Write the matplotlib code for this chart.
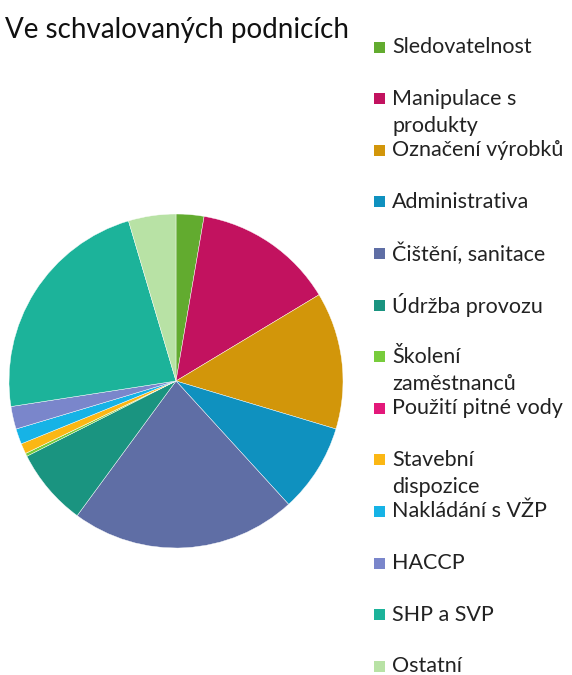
import matplotlib
matplotlib.use("Agg")
import matplotlib.pyplot as plt
from matplotlib.patches import Rectangle

plt.rcParams['font.family'] = ['Lato', 'DejaVu Sans']

# --- data (shares in %) ---
labels = ['Sledovatelnost', 'Manipulace s\nprodukty', 'Označení výrobků',
          'Administrativa', 'Čištění, sanitace', 'Údržba provozu',
          'Školení\nzaměstnanců', 'Použití pitné vody', 'Stavební\ndispozice',
          'Nakládání s VŽP', 'HACCP', 'SHP a SVP', 'Ostatní']
values = [2.7, 13.7, 13.3, 8.6, 21.9, 7.5, 0.3, 0.0, 1.0, 1.5, 2.2, 22.9, 4.6]
colors = ['#62ab2f', '#c2125f', '#d2960a', '#0f91bf', '#5f6ea5', '#1a9480',
          '#78cc3c', '#e3187a', '#fbb714', '#16b3e6', '#7a86cb', '#1cb39a',
          '#b8e2a5']
title = 'Ve schvalovaných podnicích'

W, H = 572, 675
fig = plt.figure(figsize=(W / 100, H / 100), dpi=100)

# pie: centre (176, 381) px, radius 167 px
cx, cy, r = 176, 381, 167
ax = fig.add_axes([(cx - r) / W, (H - cy - r) / H, 2 * r / W, 2 * r / H])
ax.pie(values, colors=colors, startangle=90, counterclock=False,
       wedgeprops=dict(linewidth=0.3, edgecolor='white'))
ax.set_xlim(-1, 1)
ax.set_ylim(-1, 1)
ax.set_aspect('equal')
ax.axis('off')

fig.text(5 / W, 1 - 30 / H, title, fontsize=20, color='#111111',
         ha='left', va='center')

# legend, drawn by hand so the wrapped labels keep the same spacing
y0, step, sq = 47, 51.6, 11
for i, (lab, col) in enumerate(zip(labels, colors)):
    y = y0 + i * step
    fig.patches.append(Rectangle((374 / W, 1 - (y + sq / 2) / H), sq / W, sq / H,
                                 transform=fig.transFigure, facecolor=col,
                                 edgecolor='none'))
    lines = lab.split('\n')
    for j, line in enumerate(lines):
        fig.text(392 / W, 1 - (y + j * 27) / H, line, fontsize=15.5,
                 color='#222222', ha='left', va='center')

fig.savefig('out.png', dpi=100)
